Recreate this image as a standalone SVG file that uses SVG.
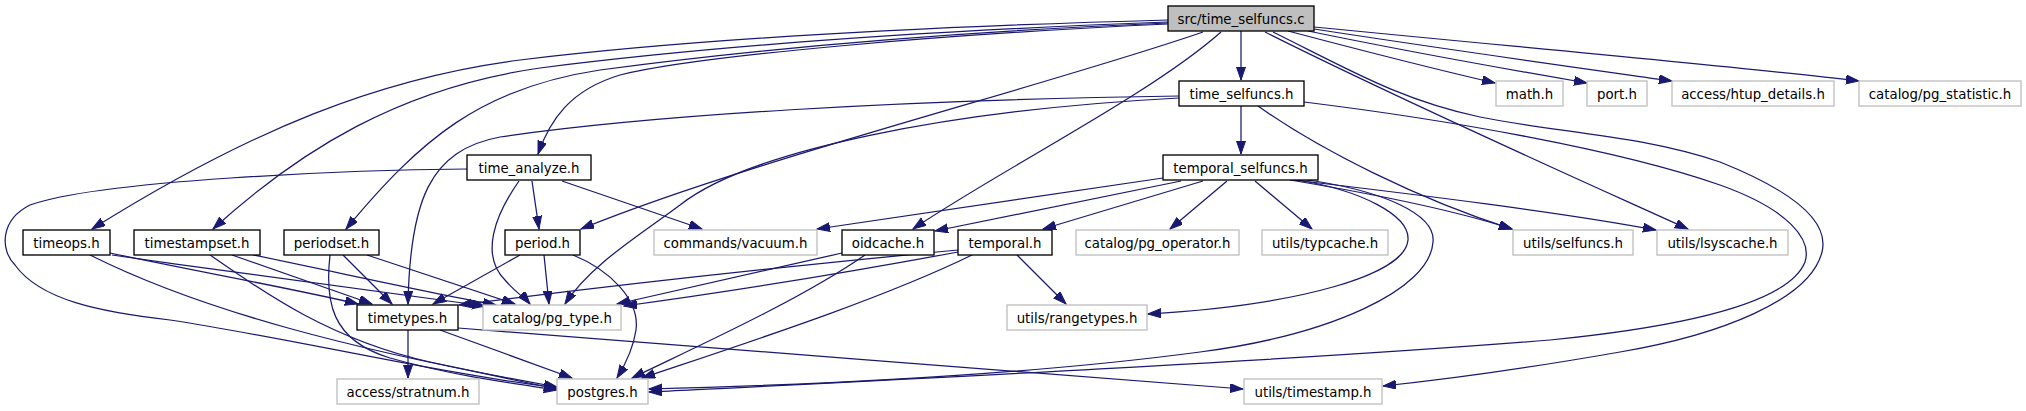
<svg xmlns="http://www.w3.org/2000/svg" width="2026" height="411" viewBox="0 0 2026 411">
<style>
.n rect{fill:#fff;stroke:#000;stroke-width:1.33}
.u rect{fill:#fff;stroke:#bfbfbf;stroke-width:1.33}
.m rect{fill:#bfbfbf;stroke:#000;stroke-width:1.33}
text{font-family:"DejaVu Sans",sans-serif;font-size:13.33px;text-anchor:middle;fill:#000}
#edges path{fill:none;stroke:#191970;stroke-width:1.25;marker-end:url(#a)}
</style>
<defs>
<marker id="a" markerWidth="14" markerHeight="10" refX="13" refY="4.5" orient="auto" markerUnits="userSpaceOnUse">
<path d="M0,0L13,4.5L0,9z" fill="#191970" stroke="#191970" stroke-width="1"/>
</marker>
</defs>
<rect width="2026" height="411" fill="#fff"/>
<g id="edges">
<!-- from src/time_selfuncs.c -->
<path d="M1168,20 C950,26 700,38 520,60 C380,78 250,130 92,229"/>
<path d="M1168,22 C950,30 720,45 540,68 C400,88 300,150 213,229"/>
<path d="M1168,23 C950,32 750,50 600,70 C480,88 420,140 346,229"/>
<path d="M1168,24 C950,34 700,55 620,75 C570,90 550,120 538,154"/>
<path d="M1203,32 C1050,85 750,160 581,229"/>
<path d="M1221,32 C1150,95 1000,170 913,229"/>
<path d="M1241,31 L1241,80"/>
<path d="M1288,31 C1360,50 1430,68 1495,83"/>
<path d="M1308,31 C1400,50 1500,68 1587,83"/>
<path d="M1314,29 C1450,50 1580,68 1672,81"/>
<path d="M1314,27 C1550,50 1750,68 1859,81"/>
<path d="M1265,32 C1400,100 1580,180 1688,229"/>
<path d="M1273,32 C1350,70 1400,100 1480,117 C1560,133 1640,135 1720,162 C1790,190 1830,220 1822,252 C1810,300 1720,335 1620,352 C1540,366 1460,378 1383,386"/>
<!-- from time_selfuncs.h -->
<path d="M1241,106 L1241,154"/>
<path d="M1179,96 C900,100 650,115 500,137 C430,150 410,200 408,304"/>
<path d="M1179,98 C950,110 750,150 680,205 C640,235 590,265 565,304"/>
<path d="M1258,106 C1320,150 1420,200 1512,229"/>
<path d="M1304,102 C1450,120 1620,150 1720,185 C1790,210 1812,240 1805,262 C1790,300 1700,325 1550,340 C1300,360 950,377 649,392"/>
<!-- from temporal_selfuncs.h -->
<path d="M1163,178 L817,229"/>
<path d="M1181,181 L935,231"/>
<path d="M1203,181 L1043,229"/>
<path d="M1227,181 L1170,229"/>
<path d="M1255,181 L1312,229"/>
<path d="M1290,180 C1380,195 1460,212 1512,229"/>
<path d="M1294,180 C1420,195 1560,212 1656,230"/>
<path d="M1297,180 C1360,190 1410,215 1408,240 C1405,275 1300,305 1148,314"/>
<path d="M1300,179 C1385,190 1436,215 1433,242 C1430,290 1330,335 1200,352 C1050,372 850,384 649,389"/>
<!-- from time_analyze.h -->
<path d="M467,169 C350,170 100,180 30,205 C0,220 0,250 15,265 C40,300 100,312 170,320 C300,340 420,370 557,388"/>
<path d="M519,181 C495,215 480,255 505,280 C515,292 525,298 530,304"/>
<path d="M532,181 L539,229"/>
<path d="M562,181 L702,229"/>
<!-- from period.h -->
<path d="M520,255 L433,304"/>
<path d="M544,255 L549,304"/>
<path d="M573,255 C610,270 640,300 636,330 C633,350 625,365 617,378"/>
<!-- from timeops.h -->
<path d="M110,253 C200,272 300,290 358,304"/>
<path d="M112,255 C250,275 400,295 485,306"/>
<path d="M90,255 C200,310 350,350 557,387"/>
<!-- from timestampset.h -->
<path d="M210,255 C260,290 330,340 430,362 C480,373 520,381 557,389"/>
<path d="M232,255 L372,304"/>
<path d="M253,255 C350,275 430,293 496,305"/>
<!-- from periodset.h -->
<path d="M343,255 L392,304"/>
<path d="M367,255 L515,304"/>
<path d="M330,255 C325,300 330,340 390,358 C450,375 510,383 557,390"/>
<!-- from timetypes.h -->
<path d="M408,330 L408,378"/>
<path d="M440,330 L572,378"/>
<path d="M458,328 C700,345 1000,372 1243,389"/>
<!-- from oidcache.h -->
<path d="M842,253 C760,272 680,290 617,304"/>
<path d="M865,255 C800,300 700,345 632,378"/>
<!-- from temporal.h -->
<path d="M1017,255 L1066,304"/>
<path d="M958,252 C850,272 720,293 624,306"/>
<path d="M958,250 C800,265 600,287 459,305"/>
<path d="M972,255 C880,300 740,345 642,378"/>
</g>
<g id="n_src" class="m"><rect x="1168" y="6" width="146" height="25"/><text x="1241" y="23.5">src/time_selfuncs.c</text></g>
<g id="n_time_selfuncs" class="n"><rect x="1179" y="81" width="125" height="25"/><text x="1241.5" y="98.5">time_selfuncs.h</text></g>
<g id="n_math" class="u"><rect x="1496" y="81" width="67" height="25"/><text x="1529.5" y="98.5">math.h</text></g>
<g id="n_port" class="u"><rect x="1587" y="81" width="60" height="25"/><text x="1617" y="98.5">port.h</text></g>
<g id="n_htup" class="u"><rect x="1672" y="81" width="162" height="25"/><text x="1753" y="98.5">access/htup_details.h</text></g>
<g id="n_pgstat" class="u"><rect x="1859" y="81" width="162" height="25"/><text x="1940" y="98.5">catalog/pg_statistic.h</text></g>
<g id="n_time_analyze" class="n"><rect x="467" y="155" width="124" height="25"/><text x="529" y="172.5">time_analyze.h</text></g>
<g id="n_temporal_selfuncs" class="n"><rect x="1163" y="155" width="155" height="25"/><text x="1240.5" y="172.5">temporal_selfuncs.h</text></g>
<g id="n_timeops" class="n"><rect x="23" y="230" width="87" height="25"/><text x="66.5" y="247.5">timeops.h</text></g>
<g id="n_timestampset" class="n"><rect x="134" y="230" width="126" height="25"/><text x="197" y="247.5">timestampset.h</text></g>
<g id="n_periodset" class="n"><rect x="284" y="230" width="95" height="25"/><text x="331.5" y="247.5">periodset.h</text></g>
<g id="n_period" class="n"><rect x="505" y="230" width="75" height="25"/><text x="542.5" y="247.5">period.h</text></g>
<g id="n_vacuum" class="u"><rect x="654" y="230" width="163" height="25"/><text x="735.5" y="247.5">commands/vacuum.h</text></g>
<g id="n_oidcache" class="n"><rect x="842" y="230" width="92" height="25"/><text x="888" y="247.5">oidcache.h</text></g>
<g id="n_temporal" class="n"><rect x="958" y="230" width="94" height="25"/><text x="1005" y="247.5">temporal.h</text></g>
<g id="n_pgop" class="u"><rect x="1076" y="230" width="163" height="25"/><text x="1157.5" y="247.5">catalog/pg_operator.h</text></g>
<g id="n_typcache" class="u"><rect x="1262" y="230" width="126" height="25"/><text x="1325" y="247.5">utils/typcache.h</text></g>
<g id="n_selfuncs" class="u"><rect x="1513" y="230" width="120" height="25"/><text x="1573" y="247.5">utils/selfuncs.h</text></g>
<g id="n_lsyscache" class="u"><rect x="1657" y="230" width="131" height="25"/><text x="1722.5" y="247.5">utils/lsyscache.h</text></g>
<g id="n_timetypes" class="n"><rect x="357" y="305" width="101" height="25"/><text x="407.5" y="322.5">timetypes.h</text></g>
<g id="n_pgtype" class="u"><rect x="483" y="305" width="138" height="25"/><text x="552" y="322.5">catalog/pg_type.h</text></g>
<g id="n_rangetypes" class="u"><rect x="1007" y="305" width="140" height="25"/><text x="1077" y="322.5">utils/rangetypes.h</text></g>
<g id="n_stratnum" class="u"><rect x="337" y="379" width="142" height="25"/><text x="408" y="396.5">access/stratnum.h</text></g>
<g id="n_postgres" class="u"><rect x="557" y="379" width="91" height="25"/><text x="602.5" y="396.5">postgres.h</text></g>
<g id="n_timestamp" class="u"><rect x="1244" y="379" width="138" height="25"/><text x="1313" y="396.5">utils/timestamp.h</text></g>
</svg>
